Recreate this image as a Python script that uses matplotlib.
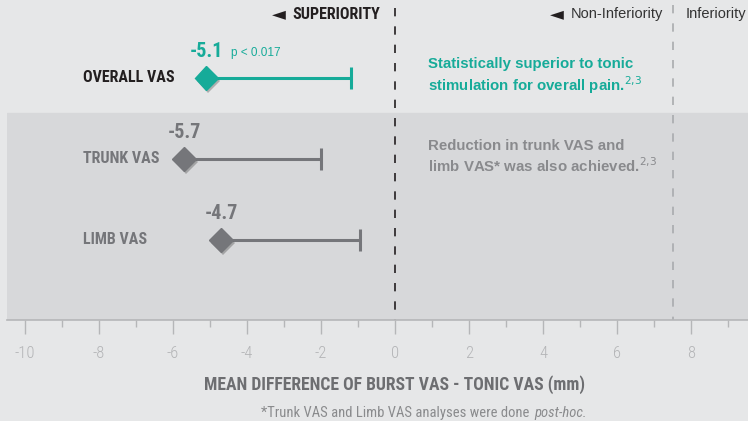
import matplotlib
matplotlib.use('Agg')
import matplotlib.pyplot as plt
import matplotlib.patheffects as pe

# data
labels = ['OVERALL VAS', 'TRUNK VAS', 'LIMB VAS']
means = [-5.1, -5.7, -4.7]
upper = [-1.2, -2.0, -0.95]
value_text = ['-5.1', '-5.7', '-4.7']
ticks = [-10, -8, -6, -4, -2, 0, 2, 4, 6, 8]
non_inf_margin = 7.5

teal = '#16ab99'
grey = '#75767a'
cond = ['Roboto Condensed', 'DejaVu Sans']
plain = ['Liberation Sans', 'DejaVu Sans']

fig = plt.figure(figsize=(7.48, 4.21), dpi=100)
fig.patch.set_facecolor('#e6e7e8')
ax = fig.add_axes([7 / 748, 101 / 421, 741 / 748, 320 / 421])
ax.set_facecolor('#e6e7e8')
ax.set_xlim(-10.49, 9.54)
ax.set_ylim(2.988, -0.963)

# shaded band behind the secondary endpoints
ax.axhspan(0.432, 2.988, color='#d7d8da', zorder=0)

# reference lines (zero and non-inferiority margin)
ax.plot([0, 0], [-0.86, 2.988], color='#231f20', lw=1.2, ls=(0, (5, 6)), zorder=1)
ax.plot([non_inf_margin] * 2, [-0.9, 2.988], color='#a9abae', lw=1.2, ls=(0, (5, 6)), zorder=1)

colors = [teal, grey, grey]
lab_colors = ['#231f20', grey, grey]
for i, (m, u) in enumerate(zip(means, upper)):
    c = colors[i]
    ax.plot([m, u], [i, i], color=c, lw=2.2, zorder=3, solid_capstyle='butt')
    ax.plot([u], [i], marker='|', markersize=16, mew=2.2, color=c, zorder=3)
    ax.plot([m], [i], marker='D', markersize=12, color=c, zorder=4,
            path_effects=[pe.SimplePatchShadow(offset=(1.5, -2), shadow_rgbFace='#444444', alpha=0.35),
                          pe.Normal()])
    ax.text(-8.43, i, labels[i], ha='left', va='center', fontsize=11.5, fontweight='bold',
            color=lab_colors[i], family=cond)
    ax.text(m, i - 0.33, value_text[i], ha='center', va='center', fontsize=14.5,
            fontweight='bold', color=c, family=cond)

ax.text(-4.43, -0.31, 'p < 0.017', ha='left', va='center', fontsize=8.5, color=teal, family=plain)

# annotations
ax.text(0.9, -0.02, 'Statistically superior to tonic\nstimulation for overall pain.$^{2{,}3}$',
        ha='left', va='center', fontsize=10.8, fontweight='bold', color=teal, family=plain,
        linespacing=1.2)
ax.text(0.9, 0.975, 'Reduction in trunk VAS and\nlimb VAS* was also achieved.$^{2{,}3}$',
        ha='left', va='center', fontsize=10.8, fontweight='bold', color='#898a8d', family=plain,
        linespacing=1.2)

# header
ax.text(-0.4, -0.79, 'SUPERIORITY', ha='right', va='center', fontsize=11.5, fontweight='bold',
        color='#231f20', family=cond)
ax.text(-2.95, -0.79, '\u25c4', ha='right', va='center', fontsize=13, color='#231f20',
        family=['DejaVu Sans'])
ax.text(4.55, -0.79, '\u25c4', ha='right', va='center', fontsize=13, color='#231f20',
        family=['DejaVu Sans'])
ax.text(7.25, -0.79, 'Non-Inferiority', ha='right', va='center', fontsize=10.5, color='#333333',
        family=plain)
ax.text(7.86, -0.79, 'Inferiority', ha='left', va='center', fontsize=10.5, color='#333333',
        family=plain)

# axis styling
for s in ['top', 'left', 'right']:
    ax.spines[s].set_visible(False)
ax.spines['bottom'].set_color('#b5b6b8')
ax.spines['bottom'].set_linewidth(1.2)
ax.set_yticks([])
ax.set_xticks(ticks)
ax.set_xticks([t + 1 for t in ticks], minor=True)
ax.set_xticklabels([str(v) for v in ticks], family=cond, fontweight='light', fontsize=12,
                   color='#b3b4b6')
ax.tick_params(axis='x', which='major', direction='out', length=10, width=1, color='#b5b6b8', pad=9)
ax.tick_params(axis='x', which='minor', direction='out', length=5, width=1, color='#b5b6b8')

fig.text(394 / 748, 1 - 385 / 421, 'MEAN DIFFERENCE OF BURST VAS - TONIC VAS (mm)', ha='center',
         va='center', fontsize=12.7, fontweight='bold', color='#6d6e71', family=cond)
fig.text(533 / 748, 1 - 413 / 421, '*Trunk VAS and Limb VAS analyses were done ', ha='right',
         va='center', fontsize=10.5, color='#8a8b8d', family=['Roboto Condensed', 'DejaVu Sans'])
fig.text(534 / 748, 1 - 413 / 421, 'post-hoc.', ha='left', va='center', fontsize=10.5,
         color='#8a8b8d', family=['Roboto Condensed', 'DejaVu Sans'], style='italic')

fig.savefig('out.png', dpi=100, facecolor=fig.get_facecolor())
